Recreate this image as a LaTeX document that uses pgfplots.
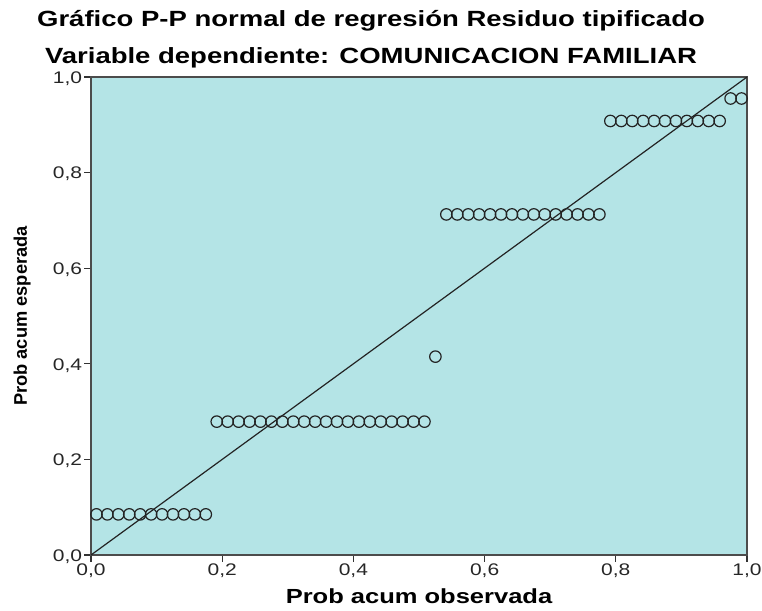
\documentclass[border=0pt]{standalone}
\usepackage{fontspec}
\setmainfont{Liberation Sans}[FakeStretch=1.25]
\newfontfamily\ylabfont{Liberation Sans}
\usepackage{pgfplots}
\pgfplotsset{compat=1.18}
\definecolor{ppbg}{RGB}{180,228,230}
\definecolor{ppline}{RGB}{35,35,35}

\begin{document}
\begin{tikzpicture}
\begin{axis}[
  name=ax,
  scale only axis,
  width=492pt, height=358.5pt,
  xmin=0, xmax=1, ymin=0, ymax=1,
  axis background/.style={fill=ppbg},
  axis line style={draw=black!70, line width=1pt},
  xtick={0,0.2,0.4,0.6,0.8,1},
  ytick={0,0.2,0.4,0.6,0.8,1},
  tick align=outside, tick pos=left,
  major tick length=5pt,
  tick style={black!80, line width=0.8pt},
  /pgf/number format/use comma,
  /pgf/number format/fixed,
  /pgf/number format/fixed zerofill,
  /pgf/number format/precision=1,
  /pgf/number format/assume math mode=true,
  ticklabel style={font=\fontsize{12.6}{15}\selectfont, text=black!85, inner sep=1.5pt},
  yticklabel style={yshift=-1.2pt},
  xlabel={Prob acum observada},
  ylabel={Prob acum esperada},
  xlabel style={font=\bfseries\fontsize{15.3}{18}\selectfont,
    at={(axis description cs:0.5,-0.102)}, anchor=base},
  ylabel style={font=\ylabfont\bfseries\fontsize{13.7}{16}\selectfont,
    at={(axis description cs:-0.105,0.5)}, anchor=center},
]
% diagonal reference line
\addplot[ppline, line width=0.9pt] coordinates {(0,0) (1,1)};
% observed vs expected cumulative probabilities
\addplot[only marks, mark=o, mark size=4.3pt,
  mark options={line width=0.9pt, draw=ppline}] coordinates {
  (0.00833,0.085) (0.02500,0.085) (0.04167,0.085) (0.05833,0.085)
  (0.07500,0.085) (0.09167,0.085) (0.10833,0.085) (0.12500,0.085)
  (0.14167,0.085) (0.15833,0.085) (0.17500,0.085)
  (0.19167,0.279) (0.20833,0.279) (0.22500,0.279) (0.24167,0.279)
  (0.25833,0.279) (0.27500,0.279) (0.29167,0.279) (0.30833,0.279)
  (0.32500,0.279) (0.34167,0.279) (0.35833,0.279) (0.37500,0.279)
  (0.39167,0.279) (0.40833,0.279) (0.42500,0.279) (0.44167,0.279)
  (0.45833,0.279) (0.47500,0.279) (0.49167,0.279) (0.50833,0.279)
  (0.52500,0.415)
  (0.54167,0.7125) (0.55833,0.7125) (0.57500,0.7125) (0.59167,0.7125)
  (0.60833,0.7125) (0.62500,0.7125) (0.64167,0.7125) (0.65833,0.7125)
  (0.67500,0.7125) (0.69167,0.7125) (0.70833,0.7125) (0.72500,0.7125)
  (0.74167,0.7125) (0.75833,0.7125) (0.77500,0.7125)
  (0.79167,0.908) (0.80833,0.908) (0.82500,0.908) (0.84167,0.908)
  (0.85833,0.908) (0.87500,0.908) (0.89167,0.908) (0.90833,0.908)
  (0.92500,0.908) (0.94167,0.908) (0.95833,0.908)
  (0.97500,0.955) (0.99167,0.955)
};
\end{axis}
\node[anchor=base, inner sep=0pt, font=\bfseries\fontsize{16.5}{20}\selectfont]
  at ([xshift=-36pt, yshift=37.5pt]ax.north)
  {Gráfico P-P normal de regresión Residuo tipificado};
\node[anchor=base, inner sep=0pt, font=\bfseries\fontsize{16.5}{20}\selectfont]
  at ([xshift=-36pt, yshift=10.25pt]ax.north)
  {Variable dependiente: COMUNICACION FAMILIAR};
\pgfresetboundingbox
\path ([shift={(-68.25pt,-41.25pt)}]ax.south west)
  rectangle ([shift={(11.25pt,57.75pt)}]ax.north east);
\end{tikzpicture}
\end{document}
